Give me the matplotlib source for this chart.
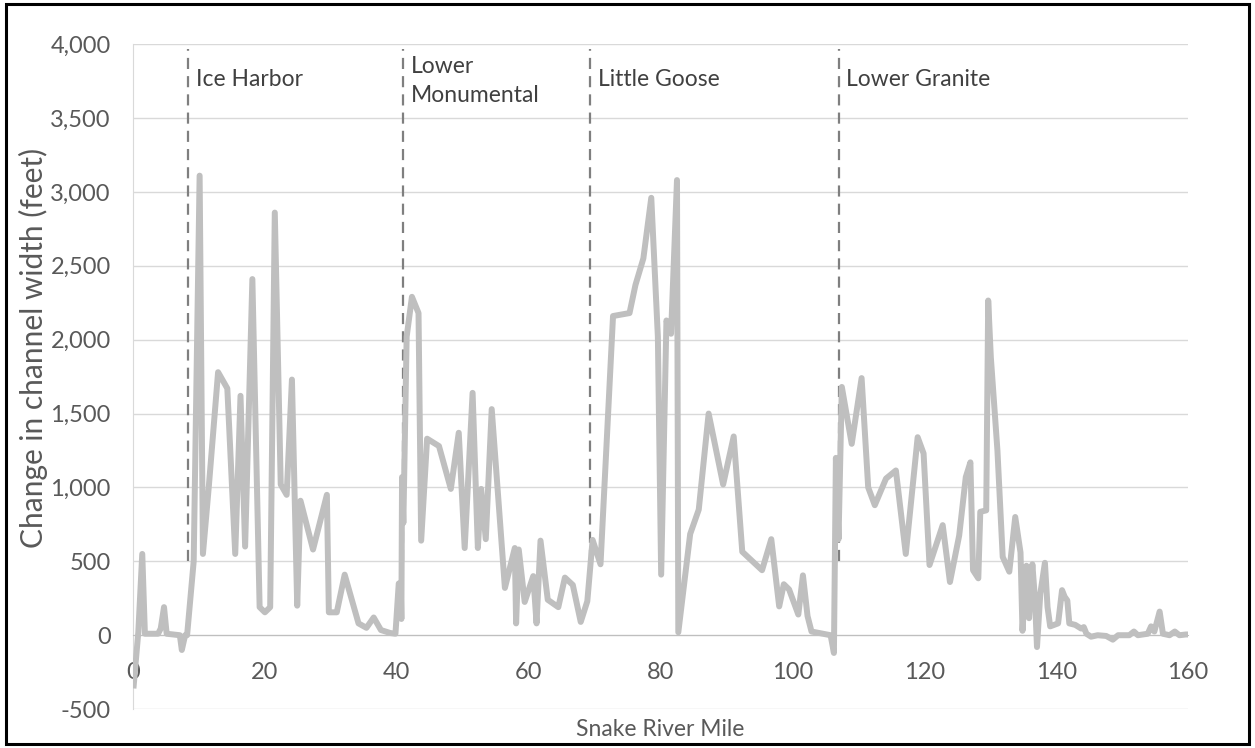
import matplotlib
matplotlib.use("Agg")
import matplotlib.pyplot as plt
from matplotlib.patches import Rectangle

# ---- data ----
river_mile = [0.1, 0.8, 1.4, 1.8, 3.8, 4.2, 4.7, 5.1, 7.1, 7.4, 7.9, 8.2, 9.2, 10.1, 10.6, 11.5,
              12.9, 14.3, 15.5, 16.3, 17.0, 18.1, 19.2, 20.0, 20.8, 21.5, 22.4, 23.3, 24.1, 24.9,
              25.4, 27.3, 29.4, 29.7, 30.9, 32.1, 34.2, 35.4, 36.5, 37.6, 39.0, 39.8, 40.3, 40.6,
              40.7, 40.8, 41.0, 41.5, 42.3, 43.3, 43.7, 44.6, 46.4, 48.2, 49.4, 50.3, 51.5, 52.3,
              52.8, 53.5, 54.4, 56.4, 57.9, 58.1, 58.5, 59.4, 60.7, 61.2, 61.8, 62.9, 64.5, 65.5,
              66.7, 67.9, 68.9, 69.7, 70.9, 72.8, 75.3, 76.2, 77.4, 78.6, 79.6, 80.1, 80.9, 81.6,
              82.5, 82.7, 84.5, 85.8, 87.3, 89.5, 91.1, 92.4, 95.4, 96.8, 98.0, 98.7, 99.5, 100.9,
              101.6, 102.3, 102.9, 105.8, 106.3, 106.6, 107.0, 107.5, 109.0, 110.5, 111.5, 112.5,
              114.2, 115.7, 117.2, 119.0, 119.9, 120.8, 122.8, 123.9, 125.3, 126.3, 127.0, 127.4,
              128.2, 128.5, 129.4, 129.7, 130.1, 131.1, 131.9, 132.9, 133.8, 134.6, 134.9, 135.5,
              135.9, 136.4, 136.8, 137.1, 137.6, 138.3, 138.7, 139.1, 139.7, 140.3, 140.9, 141.3,
              141.7, 142.0, 142.9, 143.8, 144.2, 144.6, 145.3, 146.3, 147.6, 148.6, 149.4, 151.1,
              151.8, 152.4, 153.9, 154.4, 154.9, 155.7, 156.2, 157.2, 158.0, 158.7, 159.7, 160.0]
width_change = [-340, 20, 550, 10, 10, 45, 190, 10, 0, -100, 0, 0, 500, 3110, 550, 1010,
                1780, 1670, 550, 1620, 600, 2410, 190, 155, 190, 2860, 1020, 950, 1730, 200,
                910, 580, 950, 155, 155, 410, 80, 50, 120, 35, 15, 10, 350, 350,
                110, 1070, 760, 2020, 2290, 2180, 640, 1330, 1280, 990, 1370, 590, 1640, 590,
                990, 650, 1530, 320, 590, 80, 580, 225, 400, 80, 640, 240, 190, 390,
                340, 90, 230, 645, 480, 2160, 2180, 2370, 2550, 2960, 2020, 410, 2130, 2040,
                3080, 20, 685, 850, 1500, 1020, 1345, 565, 440, 650, 195, 345, 310, 140,
                405, 130, 25, 0, -120, 1200, 650, 1680, 1295, 1740, 1000, 880,
                1060, 1115, 550, 1340, 1230, 475, 745, 360, 675, 1070, 1170, 440,
                385, 835, 845, 2265, 1880, 1250, 530, 430, 800, 560, 30, 470,
                115, 480, 240, -80, 280, 490, 190, 60, 70, 80, 305, 260,
                235, 80, 70, 45, 55, 10, -10, 0, -5, -30, 0, 0,
                25, 0, 10, 60, 25, 160, 10, 0, 25, 0, 5, 5]

dam_names = ["Ice Harbor", "Lower\nMonumental", "Little Goose", "Lower Granite"]
dam_miles = [8.4, 41.0, 69.3, 107.0]

x_ticks = [0, 20, 40, 60, 80, 100, 120, 140, 160]
y_ticks = [-500, 0, 500, 1000, 1500, 2000, 2500, 3000, 3500, 4000]

# ---- figure ----
plt.rcParams['font.family'] = ['Lato', 'DejaVu Sans']
fig = plt.figure(figsize=(12.55, 7.48), dpi=100)
ax = fig.add_axes([0.106, 0.052, 0.8406, 0.889])

ax.set_xlim(0, 160)
ax.set_ylim(-500, 4000)

ax.set_yticks(y_ticks)
ax.set_yticklabels([f"{v:,}" for v in y_ticks])
ax.set_xticks(x_ticks)
ax.set_xticklabels([str(v) for v in x_ticks])

ax.grid(axis='y', color='#D9D9D9', linewidth=1.0, zorder=0)
ax.set_axisbelow(True)

for s in ['top', 'right']:
    ax.spines[s].set_visible(False)
ax.spines['left'].set_color('#D9D9D9')
ax.spines['bottom'].set_position(('data', 0))
ax.spines['bottom'].set_color('#BFBFBF')
ax.tick_params(axis='both', length=0, labelsize=17, colors='#595959')
ax.tick_params(axis='x', pad=19)
ax.tick_params(axis='y', pad=16)

# dam lines
for name, m in zip(dam_names, dam_miles):
    ax.plot([m, m], [500, 3970], color='#7F7F7F', linewidth=1.6,
            dashes=(5, 3.2), zorder=2)
    ax.text(m + 1.2, 3830 if '\n' not in name else 3920, name, fontsize=16.5,
            color='#404040', ha='left', va='top', linespacing=1.45, zorder=4)

ax.plot(river_mile, width_change, color='#BFBFBF', linewidth=4.3,
        solid_joinstyle='round', zorder=3)

fig.text(33 / 1255, 1 - 348 / 748, "Change in channel width (feet)", rotation=90,
         fontsize=21.5, color='#595959', ha='center', va='center')
ax.text(0.5, -0.015, "Snake River Mile", transform=ax.transAxes, fontsize=16.5,
        color='#595959', ha='center', va='top')

fig.patches.append(Rectangle((0.005, 0.006), 0.99, 0.988, transform=fig.transFigure,
                             fill=False, edgecolor='black', linewidth=2.2))

fig.savefig("out.png", dpi=100)
